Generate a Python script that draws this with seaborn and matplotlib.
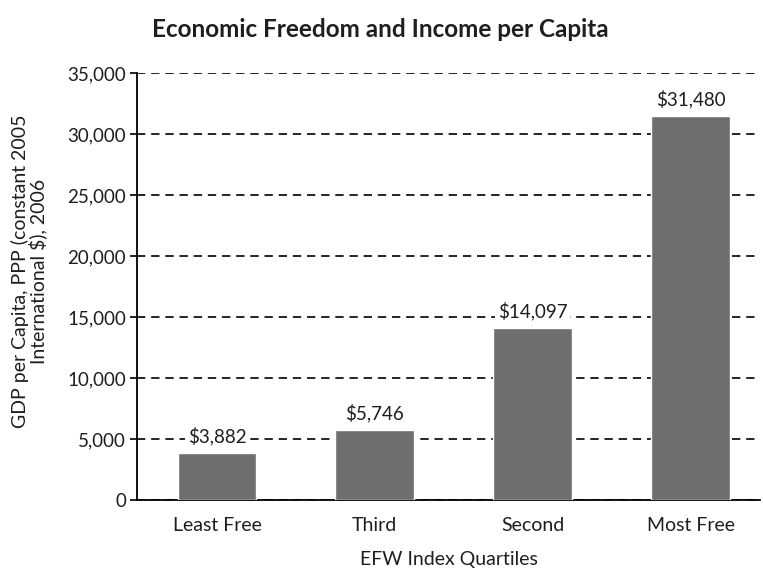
import numpy as np
import pandas as pd
import matplotlib
matplotlib.use("Agg")
import matplotlib.pyplot as plt
from matplotlib.ticker import FuncFormatter
import seaborn as sns

categories = ["Least Free", "Third", "Second", "Most Free"]
gdp_values = [3882, 5746, 14097, 31480]
y_ticks = [0, 5000, 10000, 15000, 20000, 25000, 30000, 35000]

df = pd.DataFrame({"Quartile": categories, "GDP": gdp_values})

sns.set_theme(style="white")
plt.rcParams["font.family"] = ["Lato", "DejaVu Sans"]

fig = plt.figure(figsize=(7.63, 5.71), dpi=100)
ax = fig.add_axes([0.18, 0.124, 0.816, 0.748])

sns.barplot(data=df, x="Quartile", y="GDP", color="#6e6e71", width=0.5,
            saturation=1, ax=ax, zorder=3)

# value labels sit on a white patch that breaks the dashed grid
for i, v in enumerate(gdp_values):
    ax.text(i, v + 600, f"${v:,}", ha="center", va="bottom", fontsize=13.5, color="#1e1e1e",
            zorder=4, bbox=dict(boxstyle="square,pad=0.15", fc="white", ec="none"))

ax.set_xlim(-0.505, 3.44)
ax.set_ylim(0, 35000)
ax.set_yticks(y_ticks)
ax.yaxis.set_major_formatter(FuncFormatter(lambda v, p: f"{int(v):,}"))
ax.grid(axis="y", color="black", linestyle=(0, (5, 3.5)), linewidth=1.2, zorder=0)
ax.set_axisbelow(True)

for s in ["top", "right"]:
    ax.spines[s].set_visible(False)
for s in ["left", "bottom"]:
    ax.spines[s].set_color("black")
    ax.spines[s].set_linewidth(1.3)

ax.tick_params(axis="y", left=True, length=5, width=1.2, color="black", labelsize=13.5,
               pad=3, labelcolor="#1e1e1e")
ax.tick_params(axis="x", bottom=False, labelsize=14, pad=6, labelcolor="#1e1e1e")

ax.set_xlabel("EFW Index Quartiles", fontsize=14, labelpad=12, color="#1e1e1e")
ax.set_ylabel("GDP per Capita, PPP (constant 2005\nInternational $), 2006", fontsize=14,
              linespacing=0.95, multialignment="center", color="#1e1e1e")
ax.yaxis.set_label_coords(-0.145, 0.535)
fig.suptitle("Economic Freedom and Income per Capita", fontsize=17.5, fontweight="bold",
             x=0.499, y=0.968, color="#1e1e1e")

fig.savefig("out.png", dpi=100)
